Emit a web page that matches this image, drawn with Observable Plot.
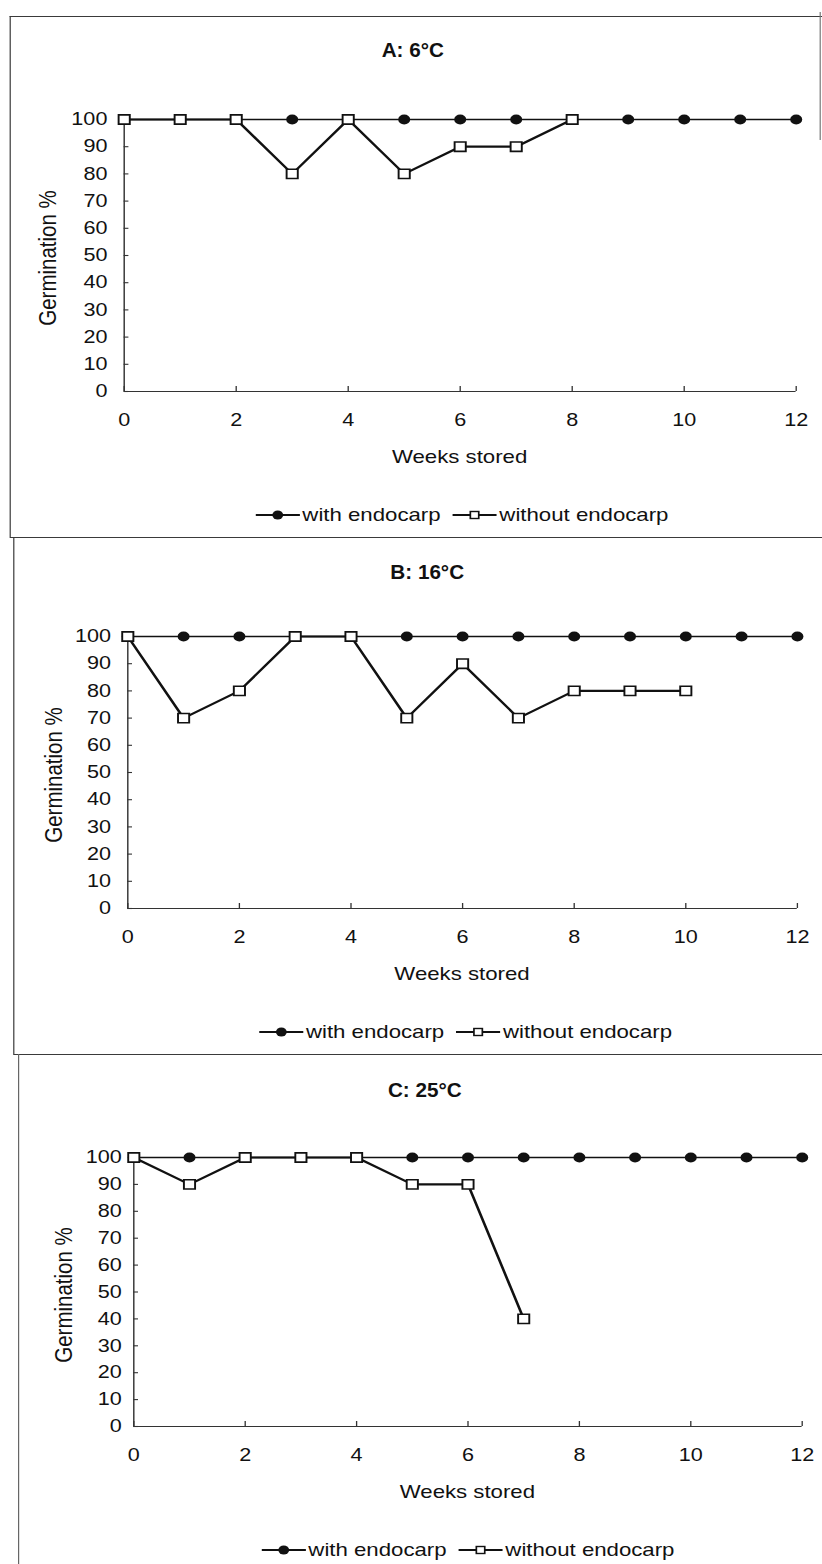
<!DOCTYPE html>
<html>
<head>
<meta charset="utf-8">
<script src="https://cdn.jsdelivr.net/npm/d3@7"></script>
<script src="https://cdn.jsdelivr.net/npm/@observablehq/plot@0.6"></script>
<style>
  html, body { margin: 0; padding: 0; background: #fff; }
  body { width: 822px; height: 1564px; overflow: hidden; }
  /* the scanned figure is wider than tall-set type: draw at 685px and stretch */
  #page {
    position: relative; width: 685px; height: 1564px;
    transform: scaleX(1.2); transform-origin: 0 0;
    font-family: "Liberation Sans", Arial, sans-serif; color: #111;
  }
  .hline { position: absolute; height: 0; border-top: 1.5px solid #3a3a3a; }
  .vline { position: absolute; width: 0; border-left: 1.5px solid #3a3a3a; }
  .panel { position: absolute; left: 0; width: 685px; }
  .panel svg { position: absolute; left: 0; top: 0; }
  .title {
    position: absolute; white-space: nowrap; font-weight: bold; font-size: 21px;
    transform: translate(-50%, -50%) scaleX(0.82);
  }
  .ytitle {
    position: absolute; white-space: nowrap; font-size: 20.5px;
    transform: translate(-50%, -50%) rotate(-90deg);
  }
  .xtitle {
    position: absolute; white-space: nowrap; font-size: 18.5px;
    transform: translate(-50%, -50%);
  }
  .legend {
    position: absolute; white-space: nowrap; font-size: 18.5px;
    transform: translate(-50%, -50%);
    display: flex; align-items: center;
  }
  .legend svg { position: static; display: block; }
  .legend span { margin-left: 2px; }
  .legend .gap { width: 10px; }
</style>
</head>
<body>
<div id="page"></div>
<script>
// Germination (%) of seeds after storage, by weeks stored and storage temperature
const weeks = [0, 1, 2, 3, 4, 5, 6, 7, 8, 9, 10, 11, 12];
const weekTicks = [0, 2, 4, 6, 8, 10, 12];
const germTicks = [0, 10, 20, 30, 40, 50, 60, 70, 80, 90, 100];
const panelTitles = ["A: 6°C", "B: 16°C", "C: 25°C"];
const seriesNames = ["with endocarp", "without endocarp"];
const xTitle = "Weeks stored";
const yTitle = "Germination %";

// A: 6°C
const withA    = [100, 100, 100, 100, 100, 100, 100, 100, 100, 100, 100, 100, 100];
const withoutA = [100, 100, 100, 80, 100, 80, 90, 90, 100];
// B: 16°C
const withB    = [100, 100, 100, 100, 100, 100, 100, 100, 100, 100, 100, 100, 100];
const withoutB = [100, 70, 80, 100, 100, 70, 90, 70, 80, 80, 80];
// C: 25°C
const withC    = [100, 100, 100, 100, 100, 100, 100, 100, 100, 100, 100, 100, 100];
const withoutC = [100, 90, 100, 100, 100, 90, 90, 40];

const W = 685;
const FONT = "Liberation Sans, Arial, sans-serif";
const INK = "#111";

const page = document.getElementById("page");

function line(cls, style) {
  const d = document.createElement("div");
  d.className = cls;
  Object.assign(d.style, style);
  page.appendChild(d);
}

// panel frames and dividers
line("hline", {top: "16px", left: "7.5px", width: (W - 7.5) + "px"});
line("vline", {top: "16px", left: "7.5px", height: "521px"});
line("vline", {top: "12px", left: "683px", height: "128px", borderLeftColor: "#777"});
line("hline", {top: "537px", left: "7.5px", width: (W - 7.5) + "px"});
line("vline", {top: "537px", left: "10.8px", height: "517px"});
line("hline", {top: "1054px", left: "10.8px", width: (W - 10.8) + "px"});
line("vline", {top: "1054px", left: "15px", height: "510px", borderLeftColor: "#666"});

const layout = [
  {top: 0,    height: 537, ml: 103, mr: 22, mt: 119, mb: 146, labelDx: -14, titleX: 344, titleY: 50, yTitleX: 40, legendX: 385},
  {top: 537,  height: 517, ml: 106, mr: 21, mt: 99,  mb: 146, labelDx: -14, titleX: 356, titleY: 35, yTitleX: 45, legendX: 388},
  {top: 1054, height: 510, ml: 111, mr: 17, mt: 103, mb: 138, labelDx: -10, titleX: 354, titleY: 36, yTitleX: 53, legendX: 390}
];

function legendSymbol(kind) {
  const ns = "http://www.w3.org/2000/svg";
  const svg = document.createElementNS(ns, "svg");
  svg.setAttribute("width", 37);
  svg.setAttribute("height", 14);
  const l = document.createElementNS(ns, "line");
  l.setAttribute("x1", 0); l.setAttribute("x2", 37);
  l.setAttribute("y1", 7); l.setAttribute("y2", 7);
  l.setAttribute("stroke", INK); l.setAttribute("stroke-width", 1.8);
  svg.appendChild(l);
  if (kind === 0) {
    const c = document.createElementNS(ns, "circle");
    c.setAttribute("cx", 18.5); c.setAttribute("cy", 7); c.setAttribute("r", 4.5);
    c.setAttribute("fill", INK);
    svg.appendChild(c);
  } else {
    const r = document.createElementNS(ns, "rect");
    r.setAttribute("x", 15); r.setAttribute("y", 3.5);
    r.setAttribute("width", 7); r.setAttribute("height", 7);
    r.setAttribute("fill", "#fff"); r.setAttribute("stroke", INK); r.setAttribute("stroke-width", 1.4);
    svg.appendChild(r);
  }
  return svg;
}

function panel(i, withVals, withoutVals) {
  const L = layout[i];
  const plotW = W - L.ml - L.mr;
  const plotH = L.height - L.mt - L.mb;

  const withData = withVals.map((v, k) => ({week: weeks[k], pct: v}));
  const withoutData = withoutVals.map((v, k) => ({week: weeks[k], pct: v}));

  const box = document.createElement("div");
  box.className = "panel";
  box.style.top = L.top + "px";
  box.style.height = L.height + "px";
  page.appendChild(box);

  const chart = Plot.plot({
    width: W,
    height: L.height,
    marginLeft: L.ml,
    marginRight: L.mr,
    marginTop: L.mt,
    marginBottom: L.mb,
    style: {fontFamily: FONT, fontSize: "18px", background: "transparent", color: INK},
    x: {domain: [0, 12], axis: null},
    y: {domain: [0, 100], axis: null},
    marks: [
      // axis lines with inside tick marks
      Plot.ruleX([0], {stroke: "#333", strokeWidth: 1.2}),
      Plot.ruleY([0], {stroke: "#333", strokeWidth: 1.2}),
      Plot.tickX(weekTicks, {x: d => d, insetTop: plotH - 5, stroke: "#333", strokeWidth: 1.1}),
      Plot.tickY(germTicks, {y: d => d, insetRight: plotW - 4, stroke: "#333", strokeWidth: 1.1}),
      // tick labels
      Plot.text(weekTicks, {x: d => d, y: 0, dy: 29, text: d => String(d), fill: INK, fontSize: 18, fontFamily: FONT}),
      Plot.text(germTicks, {x: 0, y: d => d, dx: L.labelDx, textAnchor: "end", text: d => String(d), fill: INK, fontSize: 18, fontFamily: FONT}),
      // with endocarp: line and filled circles
      Plot.line(withData, {x: "week", y: "pct", stroke: INK, strokeWidth: 1.6}),
      Plot.dot(withData, {x: "week", y: "pct", r: 5, fill: INK, stroke: "none"}),
      // without endocarp: line and open squares
      Plot.line(withoutData, {x: "week", y: "pct", stroke: INK, strokeWidth: 2.2}),
      Plot.dot(withoutData, {x: "week", y: "pct", symbol: "square", r: 5.25, fill: "#fff", stroke: INK, strokeWidth: 1.6})
    ]
  });
  box.appendChild(chart);

  const t = document.createElement("div");
  t.className = "title";
  t.textContent = panelTitles[i];
  t.style.left = L.titleX + "px";
  t.style.top = L.titleY + "px";
  box.appendChild(t);

  const yt = document.createElement("div");
  yt.className = "ytitle";
  yt.textContent = yTitle;
  yt.style.left = L.yTitleX + "px";
  yt.style.top = (L.mt + plotH / 2 + 3) + "px";
  box.appendChild(yt);

  const xt = document.createElement("div");
  xt.className = "xtitle";
  xt.textContent = xTitle;
  xt.style.left = (L.ml + plotW / 2) + "px";
  xt.style.top = (L.mt + plotH + 66) + "px";
  box.appendChild(xt);

  const lg = document.createElement("div");
  lg.className = "legend";
  lg.style.left = L.legendX + "px";
  lg.style.top = (L.mt + plotH + 124) + "px";
  seriesNames.forEach((name, k) => {
    if (k > 0) {
      const g = document.createElement("div");
      g.className = "gap";
      lg.appendChild(g);
    }
    lg.appendChild(legendSymbol(k));
    const s = document.createElement("span");
    s.textContent = name;
    lg.appendChild(s);
  });
  box.appendChild(lg);
}

panel(0, withA, withoutA);
panel(1, withB, withoutB);
panel(2, withC, withoutC);
</script>
</body>
</html>
